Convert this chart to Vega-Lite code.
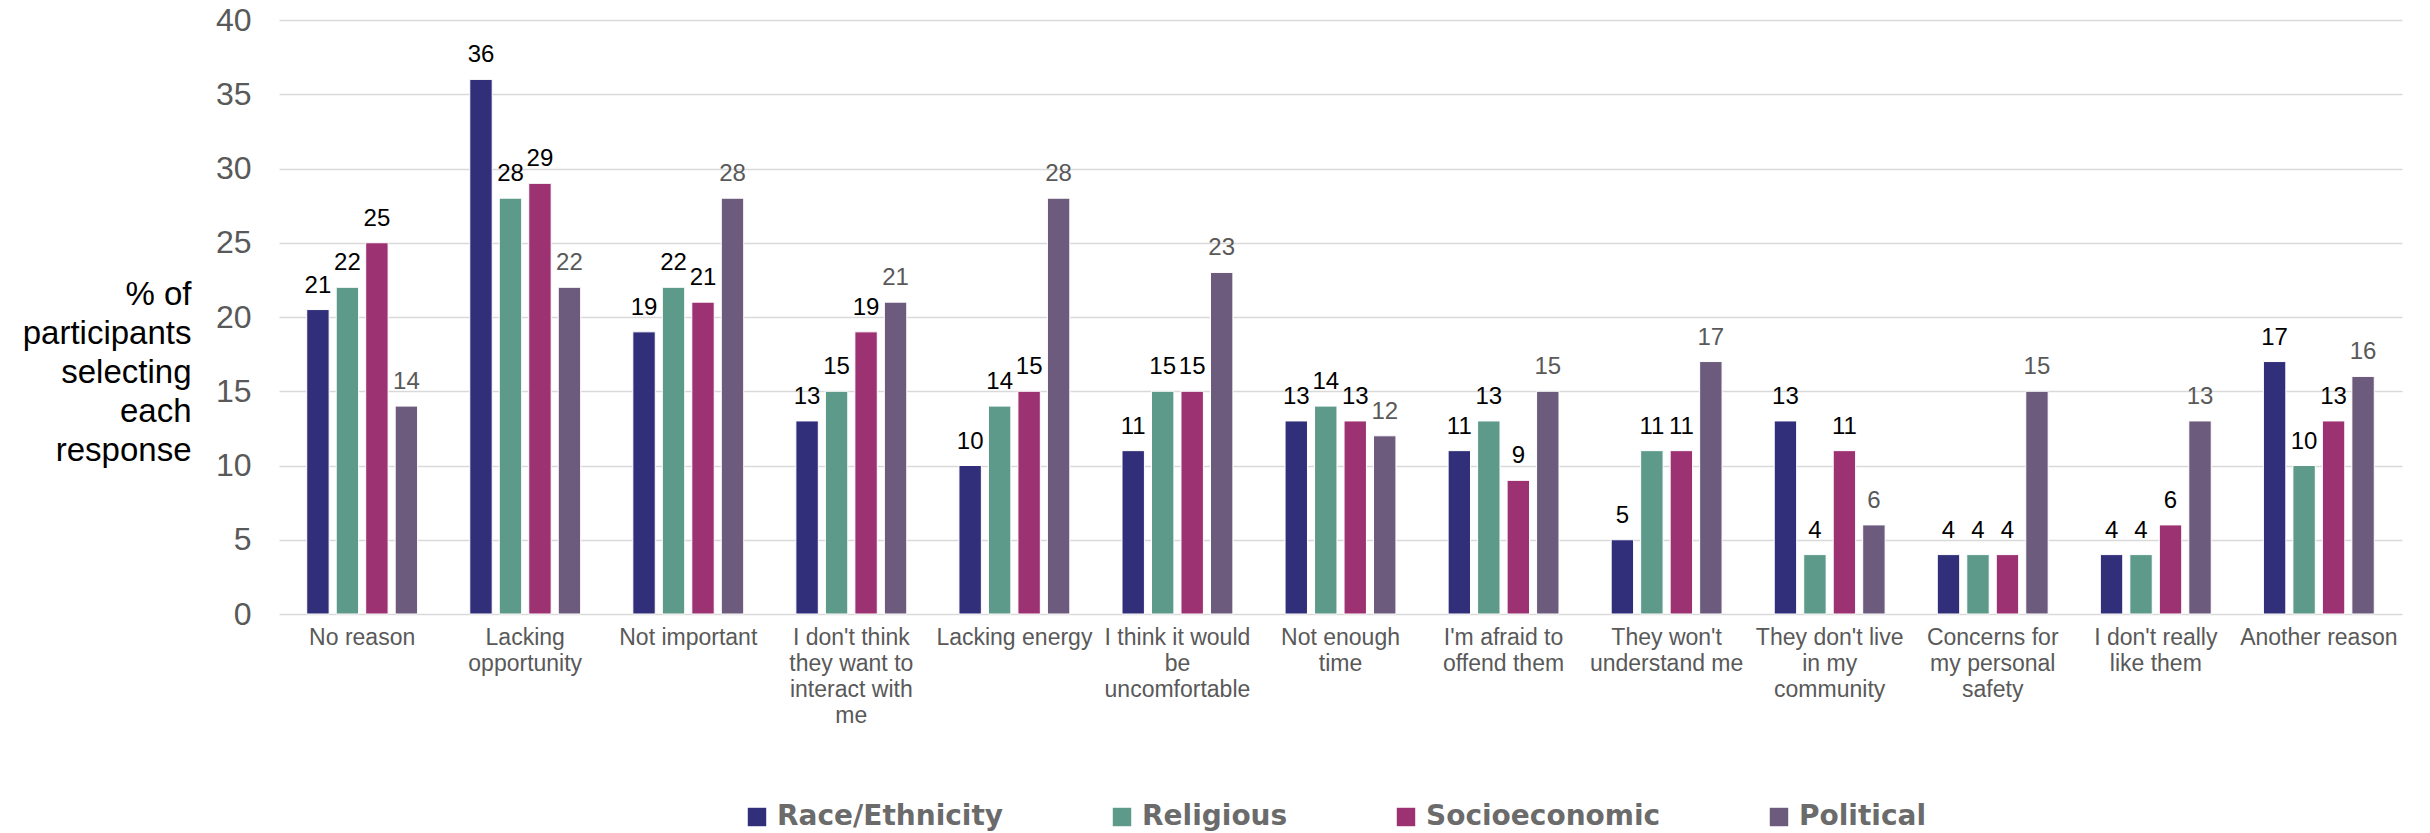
{
  "$schema": "https://vega.github.io/schema/vega-lite/v6.json",
  "width": 2123,
  "height": 594,
  "autosize": {"type": "none"},
  "padding": {"left": 279, "top": 20, "right": 28, "bottom": 219},
  "background": "white",
  "config": {"view": {"stroke": null}, "font": "Liberation Sans"},
  "data": {"values": [
    {"category": "No reason", "group": "Race/Ethnicity", "value": 20.5, "label": "21"},
    {"category": "No reason", "group": "Religious", "value": 22, "label": "22"},
    {"category": "No reason", "group": "Socioeconomic", "value": 25, "label": "25"},
    {"category": "No reason", "group": "Political", "value": 14, "label": "14"},
    {"category": "Lacking opportunity", "group": "Race/Ethnicity", "value": 36, "label": "36"},
    {"category": "Lacking opportunity", "group": "Religious", "value": 28, "label": "28"},
    {"category": "Lacking opportunity", "group": "Socioeconomic", "value": 29, "label": "29"},
    {"category": "Lacking opportunity", "group": "Political", "value": 22, "label": "22"},
    {"category": "Not important", "group": "Race/Ethnicity", "value": 19, "label": "19"},
    {"category": "Not important", "group": "Religious", "value": 22, "label": "22"},
    {"category": "Not important", "group": "Socioeconomic", "value": 21, "label": "21"},
    {"category": "Not important", "group": "Political", "value": 28, "label": "28"},
    {"category": "I don't think they want to interact with me", "group": "Race/Ethnicity", "value": 13, "label": "13"},
    {"category": "I don't think they want to interact with me", "group": "Religious", "value": 15, "label": "15"},
    {"category": "I don't think they want to interact with me", "group": "Socioeconomic", "value": 19, "label": "19"},
    {"category": "I don't think they want to interact with me", "group": "Political", "value": 21, "label": "21"},
    {"category": "Lacking energy", "group": "Race/Ethnicity", "value": 10, "label": "10"},
    {"category": "Lacking energy", "group": "Religious", "value": 14, "label": "14"},
    {"category": "Lacking energy", "group": "Socioeconomic", "value": 15, "label": "15"},
    {"category": "Lacking energy", "group": "Political", "value": 28, "label": "28"},
    {"category": "I think it would be uncomfortable", "group": "Race/Ethnicity", "value": 11, "label": "11"},
    {"category": "I think it would be uncomfortable", "group": "Religious", "value": 15, "label": "15"},
    {"category": "I think it would be uncomfortable", "group": "Socioeconomic", "value": 15, "label": "15"},
    {"category": "I think it would be uncomfortable", "group": "Political", "value": 23, "label": "23"},
    {"category": "Not enough time", "group": "Race/Ethnicity", "value": 13, "label": "13"},
    {"category": "Not enough time", "group": "Religious", "value": 14, "label": "14"},
    {"category": "Not enough time", "group": "Socioeconomic", "value": 13, "label": "13"},
    {"category": "Not enough time", "group": "Political", "value": 12, "label": "12"},
    {"category": "I'm afraid to offend them", "group": "Race/Ethnicity", "value": 11, "label": "11"},
    {"category": "I'm afraid to offend them", "group": "Religious", "value": 13, "label": "13"},
    {"category": "I'm afraid to offend them", "group": "Socioeconomic", "value": 9, "label": "9"},
    {"category": "I'm afraid to offend them", "group": "Political", "value": 15, "label": "15"},
    {"category": "They won't understand me", "group": "Race/Ethnicity", "value": 5, "label": "5"},
    {"category": "They won't understand me", "group": "Religious", "value": 11, "label": "11"},
    {"category": "They won't understand me", "group": "Socioeconomic", "value": 11, "label": "11"},
    {"category": "They won't understand me", "group": "Political", "value": 17, "label": "17"},
    {"category": "They don't live in my community", "group": "Race/Ethnicity", "value": 13, "label": "13"},
    {"category": "They don't live in my community", "group": "Religious", "value": 4, "label": "4"},
    {"category": "They don't live in my community", "group": "Socioeconomic", "value": 11, "label": "11"},
    {"category": "They don't live in my community", "group": "Political", "value": 6, "label": "6"},
    {"category": "Concerns for my personal safety", "group": "Race/Ethnicity", "value": 4, "label": "4"},
    {"category": "Concerns for my personal safety", "group": "Religious", "value": 4, "label": "4"},
    {"category": "Concerns for my personal safety", "group": "Socioeconomic", "value": 4, "label": "4"},
    {"category": "Concerns for my personal safety", "group": "Political", "value": 15, "label": "15"},
    {"category": "I don't really like them", "group": "Race/Ethnicity", "value": 4, "label": "4"},
    {"category": "I don't really like them", "group": "Religious", "value": 4, "label": "4"},
    {"category": "I don't really like them", "group": "Socioeconomic", "value": 6, "label": "6"},
    {"category": "I don't really like them", "group": "Political", "value": 13, "label": "13"},
    {"category": "Another reason", "group": "Race/Ethnicity", "value": 17, "label": "17"},
    {"category": "Another reason", "group": "Religious", "value": 10, "label": "10"},
    {"category": "Another reason", "group": "Socioeconomic", "value": 13, "label": "13"},
    {"category": "Another reason", "group": "Political", "value": 16, "label": "16"}
  ]},
  "encoding": {
    "x": {
      "field": "category",
      "type": "nominal",
      "sort": null,
      "scale": {"paddingInner": 0.32, "paddingOuter": 0.17},
      "axis": {
        "title": null,
        "labelAngle": 0,
        "domain": false,
        "ticks": false,
        "labelFontSize": 23,
        "labelColor": "#595959",
        "labelPadding": 12,
        "labelLineHeight": 26,
        "labelLimit": 0,
        "labelBound": false,
        "labelOverlap": false,
        "labelExpr": "{\"Lacking opportunity\": [\"Lacking\", \"opportunity\"], \"I don't think they want to interact with me\": [\"I don't think\", \"they want to\", \"interact with\", \"me\"], \"I think it would be uncomfortable\": [\"I think it would\", \"be\", \"uncomfortable\"], \"Not enough time\": [\"Not enough\", \"time\"], \"I'm afraid to offend them\": [\"I'm afraid to\", \"offend them\"], \"They won't understand me\": [\"They won't\", \"understand me\"], \"They don't live in my community\": [\"They don't live\", \"in my\", \"community\"], \"Concerns for my personal safety\": [\"Concerns for\", \"my personal\", \"safety\"], \"I don't really like them\": [\"I don't really\", \"like them\"]}[datum.label] || datum.label"
      }
    },
    "xOffset": {
      "field": "group",
      "type": "nominal",
      "sort": ["Race/Ethnicity", "Religious", "Socioeconomic", "Political"],
      "scale": {"paddingInner": 0.24, "paddingOuter": 0}
    },
    "y": {
      "field": "value",
      "type": "quantitative",
      "scale": {"domain": [0, 40]},
      "axis": {
        "title": ["% of", "participants", "selecting", "each", "response"],
        "titleAngle": 0,
        "titleAlign": "right",
        "titleBaseline": "top",
        "titleX": -88,
        "titleY": 258,
        "titleFontSize": 33,
        "titleFontWeight": "normal",
        "titleColor": "#000000",
        "titleLineHeight": 39,
        "values": [0, 5, 10, 15, 20, 25, 30, 35, 40],
        "domain": false,
        "ticks": false,
        "labelFontSize": 32,
        "labelColor": "#595959",
        "labelPadding": 28,
        "gridColor": "#d9d9d9",
        "gridWidth": 1.5
      }
    }
  },
  "layer": [
    {
      "mark": {"type": "bar", "stroke": "#ffffff", "strokeWidth": 1},
      "encoding": {
        "color": {
          "field": "group",
          "type": "nominal",
          "sort": ["Race/Ethnicity", "Religious", "Socioeconomic", "Political"],
          "scale": {
            "domain": ["Race/Ethnicity", "Religious", "Socioeconomic", "Political"],
            "range": ["#312E7A", "#5D9A8A", "#9D3272", "#6C5B7C"]
          },
          "legend": {
            "title": null,
            "orient": "none",
            "legendX": 464,
            "legendY": 783,
            "direction": "horizontal",
            "symbolType": "square",
            "symbolSize": 340,
            "symbolStrokeWidth": 0,
            "symbolOpacity": 1,
            "labelFont": "DejaVu Sans",
            "labelFontSize": 28,
            "labelFontWeight": "bold",
            "labelColor": "#6B6B6B",
            "columnPadding": 104,
            "labelOffset": 6,
            "padding": 0,
            "labelLimit": 0
          }
        }
      }
    },
    {
      "mark": {"type": "text", "baseline": "alphabetic", "dy": -17, "fontSize": 24},
      "encoding": {
        "text": {"field": "label"},
        "color": {
          "condition": {"test": "datum.group === 'Political'", "value": "#595959"},
          "value": "#000000"
        }
      }
    }
  ]
}
